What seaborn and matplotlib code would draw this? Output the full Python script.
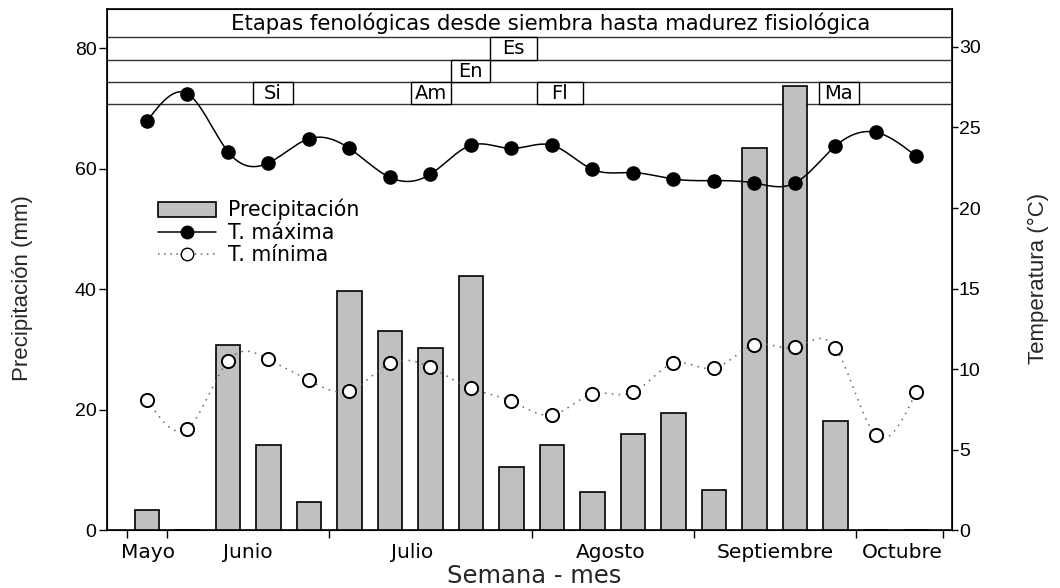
import matplotlib

matplotlib.use("Agg")
import matplotlib.pyplot as plt
import numpy as np
import pandas as pd
import seaborn as sns
from matplotlib.lines import Line2D
from matplotlib.patches import Patch, Rectangle

# weekly data
WEEKS = list(range(20))
PRECIP_MM = [3.4, 0, 30.7, 14.1, 4.7, 39.7, 33.0, 30.3, 42.1, 10.5,
             14.1, 6.3, 15.9, 19.5, 6.6, 63.4, 73.7, 18.1, 0, 0]
T_MAX = [25.4, 27.1, 23.5, 22.8, 24.3, 23.7, 21.9, 22.1, 23.9, 23.7,
         23.9, 22.4, 22.2, 21.8, 21.7, 21.55, 21.55, 23.85, 24.7, 23.2]
T_MIN = [8.1, 6.3, 10.5, 10.6, 9.3, 8.65, 10.35, 10.1, 8.8, 8.0,
         7.15, 8.45, 8.55, 10.35, 10.05, 11.5, 11.35, 11.3, 5.9, 8.6]

MONTHS = ["Mayo", "Junio", "Julio", "Agosto", "Septiembre", "Octubre"]
MONTH_CENTERS = [0.03, 2.5, 6.55, 11.46, 15.5, 18.64]
MONTH_BOUNDS = [-0.5, 0.5, 4.5, 9.5, 13.5, 17.5, 19.65]

# phenological stages: label, start week, end week, row (1 = top)
STAGE_LABELS = ["Es", "En", "Si", "Am", "Fl", "Ma"]
STAGE_START = [8.48, 7.5, 2.62, 6.53, 9.62, 16.59]
STAGE_END = [9.63, 8.47, 3.6, 7.5, 10.77, 17.58]
STAGE_ROW = [1, 2, 3, 3, 3, 3]
ROW_EDGES = [86.5, 81.8, 78.0, 74.4, 70.7]  # in mm units of the left axis

TITLE = "Etapas fenológicas desde siembra hasta madurez fisiológica"

WIDE_FONT = ["DejaVu Sans"]


def _smooth(x, y, per_segment=24):
    # natural cubic spline, only used to draw the connecting line
    x = np.asarray(x, dtype=float)
    y = np.asarray(y, dtype=float)
    n = len(x)
    h = np.diff(x)
    A = np.zeros((n, n))
    b = np.zeros(n)
    A[0, 0] = A[-1, -1] = 1
    for i in range(1, n - 1):
        A[i, i - 1] = h[i - 1]
        A[i, i] = 2 * (h[i - 1] + h[i])
        A[i, i + 1] = h[i]
        b[i] = 6 * ((y[i + 1] - y[i]) / h[i] - (y[i] - y[i - 1]) / h[i - 1])
    m = np.linalg.solve(A, b)
    xs, ys = [], []
    for i in range(n - 1):
        t = np.linspace(x[i], x[i + 1], per_segment, endpoint=False)
        a = x[i + 1] - t
        c = t - x[i]
        s = (m[i] * a**3 + m[i + 1] * c**3) / (6 * h[i]) \
            + (y[i] / h[i] - m[i] * h[i] / 6) * a \
            + (y[i + 1] / h[i] - m[i + 1] * h[i] / 6) * c
        xs.extend(t)
        ys.extend(s)
    xs.append(x[-1])
    ys.append(y[-1])
    return np.array(xs), np.array(ys)


sns.set_style("ticks")
plt.rcParams["font.family"] = ["Liberation Sans", "DejaVu Sans"]
plt.rcParams["axes.edgecolor"] = "black"
plt.rcParams["xtick.color"] = "black"
plt.rcParams["ytick.color"] = "black"
plt.rcParams["text.color"] = "black"

data = pd.DataFrame({"week": WEEKS, "precip": PRECIP_MM, "tmax": T_MAX, "tmin": T_MIN})

fig, ax = plt.subplots(figsize=(10.6, 5.88), dpi=100)
fig.subplots_adjust(left=0.1009, right=0.8981, bottom=0.0986, top=0.9847)

sns.barplot(data=data, x="week", y="precip", ax=ax, native_scale=True,
            color="#c0c0c0", saturation=1, width=0.6,
            edgecolor="black", linewidth=1.2, zorder=3)

ax.set_xlim(-0.988, 19.877)
ax.set_ylim(0, 86.5)
ax.set_yticks([0, 20, 40, 60, 80])
ax.tick_params(axis="y", labelsize=14, length=5.5, width=1, pad=2)

ax.set_xticks(MONTH_BOUNDS)
ax.set_xticklabels([""] * len(MONTH_BOUNDS))
ax.set_xticks(MONTH_CENTERS, minor=True)
ax.set_xticklabels(MONTHS, minor=True, family=WIDE_FONT, fontsize=14.5)
ax.tick_params(axis="x", which="major", length=6, width=1)
ax.tick_params(axis="x", which="minor", length=0, pad=9)

ax.set_xlabel("Semana - mes", fontsize=17.5, family=WIDE_FONT, va="top")
ax.xaxis.set_label_coords(0.505, -0.066)
ax.set_ylabel("Precipitación (mm)", fontsize=16)
ax.yaxis.set_label_coords(-0.0876, 0.4645)

# stage panel
for y in ROW_EDGES[1:]:
    ax.axhline(y, color="#333333", lw=1, zorder=1)
ax.text(0.525, (ROW_EDGES[0] + ROW_EDGES[1]) / 2, TITLE, transform=ax.get_yaxis_transform(),
        ha="center", va="center", fontsize=15.3, family=WIDE_FONT)
for label, x0, x1, row in zip(STAGE_LABELS, STAGE_START, STAGE_END, STAGE_ROW):
    y0, y1 = ROW_EDGES[row + 1], ROW_EDGES[row]
    ax.add_patch(Rectangle((x0, y0), x1 - x0, y1 - y0, facecolor="white",
                           edgecolor="black", lw=1, zorder=2))
    ax.text((x0 + x1) / 2, (y0 + y1) / 2, label, ha="center", va="center",
            fontsize=14, family=WIDE_FONT, zorder=4)

for side in ["left", "right", "top", "bottom"]:
    ax.spines[side].set_linewidth(1.2)

# temperature axis
ax2 = ax.twinx()
ax2.set_ylim(0, 32.36)
ax2.set_yticks([0, 5, 10, 15, 20, 25, 30])
ax2.tick_params(axis="y", labelsize=14, length=4, width=1, pad=1)
ax2.set_ylabel("Temperatura (°C)", fontsize=16)
ax2.yaxis.set_label_coords(1.090, 0.482)

sx, sy = _smooth(WEEKS, T_MAX)
ax2.plot(sx, sy, color="black", lw=1.1, zorder=3)
sns.scatterplot(data=data, x="week", y="tmax", ax=ax2, color="black", s=90,
                edgecolor="black", linewidth=1, zorder=4)

sx, sy = _smooth(WEEKS, T_MIN)
ax2.plot(sx, sy, color="#666666", lw=1.1, linestyle=(0, (1, 3.5)), zorder=3)
sns.scatterplot(data=data, x="week", y="tmin", ax=ax2, color="white", s=90,
                edgecolor="black", linewidth=1.4, zorder=4)
ax2.set_xlabel("")
ax2.set_xlim(-0.988, 19.877)

handles = [
    Patch(facecolor="#c0c0c0", edgecolor="black", linewidth=1.2),
    Line2D([], [], color="black", lw=1.1, marker="o", markersize=9,
           markerfacecolor="black"),
    Line2D([], [], color="#666666", lw=1.1, linestyle=(0, (1, 3)), marker="o",
           markersize=9, markerfacecolor="white", markeredgecolor="black"),
]
ax2.legend(handles, ["Precipitación", "T. máxima", "T. mínima"], frameon=False,
           loc="upper left", bbox_to_anchor=(158 / 1060, (588 - 199) / 588),
           bbox_transform=fig.transFigure, borderaxespad=0, borderpad=0,
           prop={"family": WIDE_FONT, "size": 14.8},
           handlelength=2.8, handleheight=0.7, handletextpad=0.6,
           labelspacing=0.12)

fig.savefig("out.png", dpi=100)
